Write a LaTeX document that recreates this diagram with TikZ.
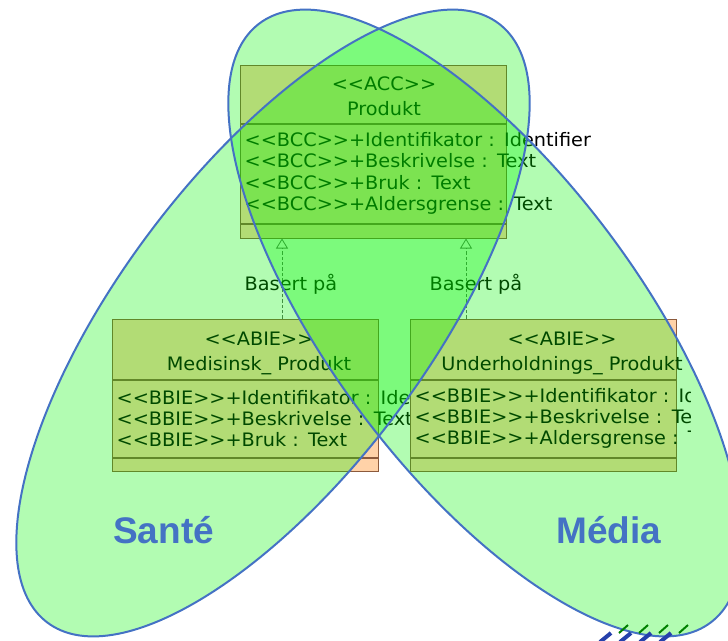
\documentclass[tikz,border=0pt]{standalone}
\usepackage{fontspec}
\usepackage{xcolor}
\usepackage{tikz}
\usetikzlibrary{positioning, arrows.meta, calc}

\newfontfamily\umlfont[FakeStretch=1.04]{DejaVu Sans}
\newfontfamily\vennfont{Liberation Sans}

\definecolor{peach}{RGB}{255,210,168}
\definecolor{boxline}{RGB}{140,90,60}
\definecolor{linegray}{RGB}{95,100,95}
\definecolor{venngreen}{RGB}{0,245,0}
\definecolor{vennblue}{RGB}{68,114,196}

% stereotype guillemets, kept as two separate characters
\newcommand{\stype}[1]{<{}<#1>{}>}

\begin{document}
\begin{tikzpicture}[x=0.75pt, y=-0.75pt, >={Triangle[open, length=7.5pt, width=9pt]}]
    \tikzset{
        head/.style={rectangle, draw=boxline, fill=peach, line width=0.75pt, minimum width=199.5pt, inner sep=0pt},
        attrs/.style={head, text width=192.5pt, inner xsep=3.5pt, align=left, font=\umlfont\fontsize{13.9}{16}\selectfont},
        title/.style={inner sep=0pt, align=center, font=\umlfont\fontsize{13.9}{18.75}\selectfont},
        line/.style={draw=linegray, dash pattern=on 2.5pt off 1.5pt, line width=0.6pt, ->},
        tag/.style={inner sep=0pt, font=\umlfont\fontsize{13.9}{16}\selectfont},
        venn/.style={draw=vennblue, line width=1.5pt},
        vennlabel/.style={anchor=base west, inner sep=0pt, text=vennblue, font=\vennfont\bfseries\fontsize{27.75}{30}\selectfont}
    }
    \useasboundingbox (0,0) rectangle (728,640);

    % core component
    \node (Acc) [head, minimum height=43.5pt] at (373,94) {};
    \node (AccAttr) [attrs, minimum height=74.25pt, below=0pt of Acc]
        {\mbox{\stype{BCC}+Identifikator : Identifier}\\
         \mbox{\stype{BCC}+Beskrivelse : Text}\\
         \mbox{\stype{BCC}+Bruk : Text}\\
         \mbox{\stype{BCC}+Aldersgrense : Text}};
    \node (AccFoot) [head, minimum height=10.5pt, below=0pt of AccAttr] {};
    \node (AccName) [title] at (384,96) {\stype{ACC}\\Produkt};

    % health entity
    \node (Med) [head, minimum height=45pt] at (245,349) {};
    \node (MedAttr) [attrs, minimum height=57.75pt, below=0pt of Med]
        {\mbox{\stype{BBIE}+Identifikator : Identifier}\\
         \mbox{\stype{BBIE}+Beskrivelse : Text}\\
         \mbox{\stype{BBIE}+Bruk : Text}};
    \node (MedFoot) [head, minimum height=9.75pt, below=0pt of MedAttr] {};
    \node (MedName) [title] at (259,353) {\stype{ABIE}\\Medisinsk\_ Produkt};

    % media entity, cut off on the right
    \begin{scope}
        \clip (0,0) rectangle (690,640);
        \node (Und) [head, minimum height=45pt] at (543,349) {};
        \node (UndAttr) [attrs, minimum height=57.75pt, below=0pt of Und]
            {\mbox{\stype{BBIE}+Identifikator : Identifier}\\
             \mbox{\stype{BBIE}+Beskrivelse : Text}\\
             \mbox{\stype{BBIE}+Aldersgrense : Text}};
        \node (UndFoot) [head, minimum height=9.75pt, below=0pt of UndAttr] {};
        \node (UndName) [title] at (562,353) {\stype{ABIE}\\Underholdnings\_ Produkt};
    \end{scope}

    \coordinate (MedLink) at (282,0);
    \coordinate (UndLink) at (466,0);
    \path [line] (Med.north -| MedLink) -- node (MedTag) [tag, pos=0.43, xshift=6.75pt] {Basert på} (AccFoot.south -| MedLink);
    \path [line] (Und.north -| UndLink) -- node (UndTag) [tag, pos=0.43, xshift=7.5pt] {Basert på} (AccFoot.south -| UndLink);

    % the two domains
    \fill [venngreen, fill opacity=0.3, rotate around={53:(273,323)}] (273,323) ellipse [x radius=375, y radius=153];
    \fill [venngreen, fill opacity=0.3, rotate around={-53:(485,323)}] (485,323) ellipse [x radius=375, y radius=153];
    \draw [venn, rotate around={53:(273,323)}] (273,323) ellipse [x radius=375, y radius=153];
    \draw [venn, rotate around={-53:(485,323)}] (485,323) ellipse [x radius=375, y radius=153];

    \node (Sante) [vennlabel] at (113,543) {Santé};
    \node (Media) [vennlabel] at (556,543) {Média};

    \foreach \i in {0,...,3} {
        \draw [vennblue!70!blue!80!black, line width=3pt] (600+20*\i,642) -- (611+20*\i,633);
        \draw [green!50!black, line width=1.5pt] (619+20*\i,633) -- (628+20*\i,625);
    }
\end{tikzpicture}
\end{document}
